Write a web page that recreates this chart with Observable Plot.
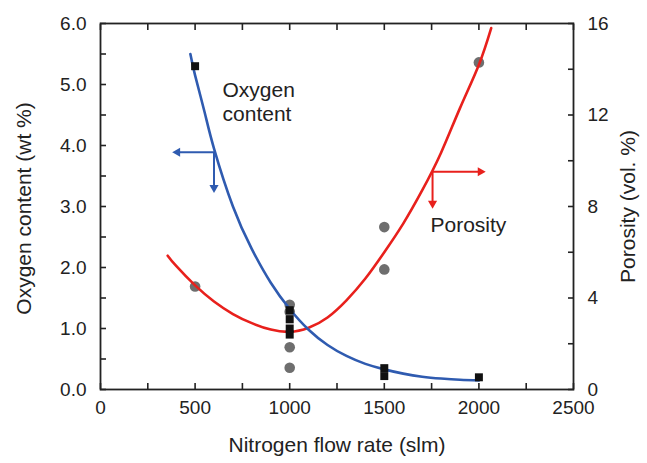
<!DOCTYPE html>
<html><head><meta charset="utf-8">
<script src="https://cdn.jsdelivr.net/npm/d3@7"></script>
<script src="https://cdn.jsdelivr.net/npm/@observablehq/plot@0.6"></script>
<style>body{margin:0;background:#fff} svg{display:block}</style>
</head><body><div id="chart"></div>
<script>
// Measured oxygen content (wt %) – black squares
const oxygenFlow  = [500, 1000, 1000, 1000, 1000, 1500, 1500, 2000];
const oxygenValue = [5.3, 1.3, 1.15, 1.0, 0.9, 0.35, 0.22, 0.2];
// Measured porosity (vol. %) – gray circles
const porosityFlow  = [500, 1000, 1000, 1000, 1000, 1500, 1500, 2000];
const porosityValue = [4.5, 3.7, 3.4, 1.85, 0.95, 7.1, 5.25, 14.3];
// Fitted oxygen curve (blue)
const oxygenFitFlow  = [475, 500, 550, 600, 700, 800, 900, 1000, 1100, 1200, 1300, 1400, 1500, 1600, 1700, 1800, 1900, 2000];
const oxygenFitValue = [5.5, 5.15, 4.55, 3.95, 3.0, 2.3, 1.75, 1.32, 0.98, 0.73, 0.55, 0.42, 0.33, 0.26, 0.21, 0.18, 0.16, 0.15];
// Fitted porosity curve (red)
const porosityFitFlow  = [355, 400, 500, 600, 700, 800, 900, 1000, 1100, 1200, 1300, 1400, 1500, 1600, 1700, 1800, 1900, 2000, 2065];
const porosityFitValue = [5.85, 5.4, 4.55, 3.85, 3.3, 2.9, 2.62, 2.52, 2.7, 3.15, 3.9, 4.85, 6.0, 7.25, 8.7, 10.35, 12.3, 14.2, 15.8];
// Axis ticks
const xTicks = [0, 500, 1000, 1500, 2000, 2500];
const xAllTicks = [0, 250, 500, 750, 1000, 1250, 1500, 1750, 2000, 2250, 2500];
const leftTicks = [0, 1, 2, 3, 4, 5, 6];
const leftAllTicks = [0, 0.5, 1, 1.5, 2, 2.5, 3, 3.5, 4, 4.5, 5, 5.5, 6];
const rightTicks = [0, 4, 8, 12, 16];
const rightAllTicks = [0, 2, 4, 6, 8, 10, 12, 14, 16];
// Annotations (data units: flow, oxygen-scale)
const labelText = ["Oxygen", "content", "Porosity"];
const labelFlow = [645, 645, 1744];
const labelY    = [4.9, 4.52, 2.69];
const arrowX1 = [600, 600, 1755, 1755];
const arrowY1 = [3.89, 3.89, 3.57, 3.57];
const arrowX2 = [407, 600, 2008, 1755];
const arrowY2 = [3.89, 3.31, 3.57, 3.05];
const arrowColor = ["#2f5bb0", "#2f5bb0", "#e8201c", "#e8201c"];

const OX_MAX = 6, POR_MAX = 16, toOx = p => p * OX_MAX / POR_MAX;

const oxPts = oxygenFlow.map((f, i) => ({f, v: oxygenValue[i]}));
const porPts = porosityFlow.map((f, i) => ({f, v: toOx(porosityValue[i])}));
const oxFit = oxygenFitFlow.map((f, i) => ({f, v: oxygenFitValue[i]}));
const porFit = porosityFitFlow.map((f, i) => ({f, v: toOx(porosityFitValue[i])}));
const labels = labelText.map((t, i) => ({t, f: labelFlow[i], v: labelY[i]}));
const arrows = arrowX1.map((x, i) => {
  const x2 = arrowX2[i], y2 = arrowY2[i];
  const rot = x2 < x ? -90 : x2 > x ? 90 : (y2 < arrowY1[i] ? 180 : 0);
  return {x1: x, y1: arrowY1[i], x2, y2, c: arrowColor[i], rot};
});

const FS = 19, FT = 21, INK = "#222";
const chart = Plot.plot({
  width: 647, height: 463,
  marginLeft: 100, marginRight: 74, marginTop: 23, marginBottom: 74,
  style: {fontFamily: "'Liberation Sans', Arial, sans-serif", fontSize: FS + "px", color: INK, background: "#fff"},
  x: {domain: [0, 2500]},
  y: {domain: [0, OX_MAX]},
  marks: [
    // inward ticks
    Plot.axisX({anchor: "bottom", ticks: xAllTicks, tickSize: -6, tickFormat: () => "", label: null, stroke: INK, strokeWidth: 1.6}),
    Plot.axisX({anchor: "top", ticks: xAllTicks, tickSize: -6, tickFormat: () => "", label: null, stroke: INK, strokeWidth: 1.6}),
    Plot.axisY({anchor: "left", ticks: leftAllTicks, tickSize: -6, tickFormat: () => "", label: null, stroke: INK, strokeWidth: 1.6}),
    Plot.axisY({anchor: "right", ticks: rightAllTicks.map(toOx), tickSize: -6, tickFormat: () => "", label: null, stroke: INK, strokeWidth: 1.6}),
    // tick labels
    Plot.axisX({anchor: "bottom", ticks: xTicks, tickSize: 0, tickPadding: 11, tickFormat: d => String(d), label: null, fontSize: FS, fill: INK}),
    Plot.axisY({anchor: "left", ticks: leftTicks, tickSize: 0, tickPadding: 14, tickFormat: d3.format(".1f"), label: null, fontSize: FS, fill: INK}),
    Plot.axisY({anchor: "right", ticks: rightTicks.map(toOx), tickSize: 0, tickPadding: 14, tickFormat: d => String(Math.round(d * POR_MAX / OX_MAX)), label: null, fontSize: FS, fill: INK}),
    // axis titles
    Plot.text(["Nitrogen flow rate (slm)"], {frameAnchor: "bottom", textAnchor: "middle", lineAnchor: "middle", dy: 56, fontSize: FT, fill: INK}),
    Plot.text(["Oxygen content (wt %)"], {frameAnchor: "left", textAnchor: "middle", lineAnchor: "middle", rotate: -90, dx: -76, dy: 2, fontSize: FT, fill: INK}),
    Plot.text(["Porosity (vol. %)"], {frameAnchor: "right", textAnchor: "middle", lineAnchor: "middle", rotate: -90, dx: 55, fontSize: FT, fill: INK}),
    Plot.frame({stroke: INK, strokeWidth: 1.8}),
    // data
    Plot.dot(porPts, {x: "f", y: "v", r: 5.3, fill: "#6e6e6e", stroke: "none"}),
    Plot.line(porFit, {x: "f", y: "v", curve: "natural", stroke: "#e8201c", strokeWidth: 2.6}),
    Plot.line(oxFit, {x: "f", y: "v", curve: "natural", stroke: "#2f5bb0", strokeWidth: 2.6}),
    Plot.dot(oxPts, {x: "f", y: "v", r: 4.5, symbol: "square", fill: "#111", stroke: "none"}),
    // annotations
    Plot.link(arrows, {x1: "x1", y1: "y1", x2: "x2", y2: "y2", stroke: "c", strokeWidth: 2}),
    Plot.dot(arrows, {x: "x2", y: "y2", symbol: "triangle", rotate: "rot", r: 3.4, fill: "c", stroke: "none"}),
    Plot.text(labels, {x: "f", y: "v", text: "t", textAnchor: "start", fontSize: FT, fill: INK})
  ]
});
document.getElementById("chart").appendChild(chart);
</script>
</body></html>
